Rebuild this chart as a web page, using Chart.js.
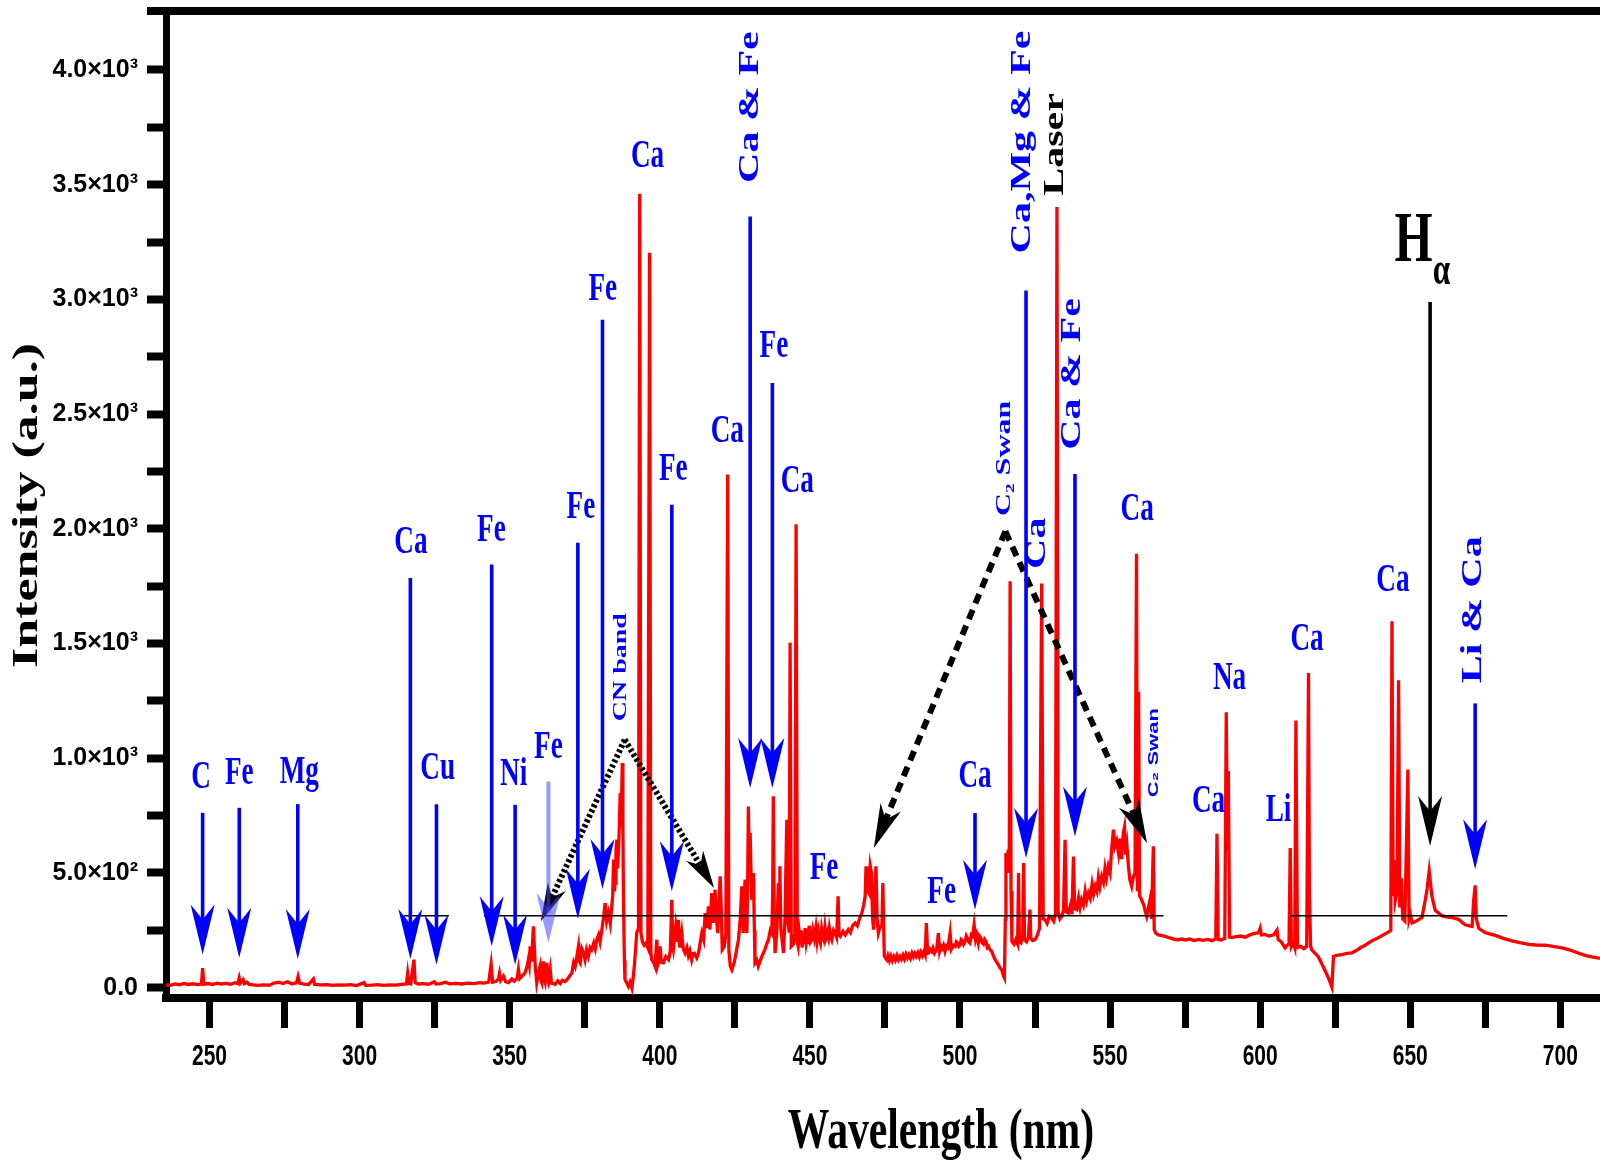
<!DOCTYPE html>
<html>
<head>
<meta charset="utf-8">
<script src="https://cdn.jsdelivr.net/npm/chart.js@4.4.0/dist/chart.umd.min.js"></script>
<style>
html,body{margin:0;padding:0;background:#ffffff;}
#wrap{width:1600px;height:1170px;position:relative;}
</style>
</head>
<body>
<div id="wrap"><canvas id="c" width="1600" height="1170"></canvas></div>
<script>
// ---------------- DATA ----------------
// LIBS emission spectrum: [wavelength (nm), intensity (a.u.)]
const spectrum = [
[235.5,12],[237,10],[238.5,16],[240,12],[241.5,18],[243,14],[244.5,17],[246,13],[247.3,16],[247.7,85],[248.1,15],[249.5,18],[251,14],[252.5,20],[254,16],[255.5,19],[257,15],[258.5,22],[259.5,18],[259.9,42],[260.3,20],[261.2,35],[261.6,18],[262.5,24],[263.2,14],[264.5,12],[266,10],[268,12],[270,11],[271.5,20],[273,24],[274.5,18],[276,26],[277.5,16],[279,22],[279.5,48],[280,20],[281.5,15],[283,14],[284.6,38],[285,14],[287,12],[289,13],[291,10],[293,12],[295,11],[297,13],[299,9],[301.5,22],[302,10],[304,11],[306,13],[308,10],[310,12],[312,11],[314,14],[315.6,16],[316,62],[316.4,18],[317,16],[318.1,122],[318.5,22],[319.5,16],[321,18],[323,15],[324.9,26],[325.4,16],[327,18],[328.5,24],[330,17],[332,19],[334,16],[336,20],[338,18],[340,22],[341.5,20],[343,24],[343.8,102],[344.3,24],
[345.5,28],[346.3,40],[346.6,62],[347,32],[347.9,50],[348.6,26],[349.6,22],[350.7,38],[351.5,28],[352.5,42],[352.9,80],[353.3,40],[354.2,52],[355.1,64],[355.8,95],[356.2,122],[356.5,100],[356.8,180],[357.1,120],[357.4,151],[357.9,267],[358.2,180],[358.5,93],[359,22],[359.5,60],[360.1,93],[360.4,30],[360.7,20],[361.2,115],[361.5,40],[361.8,25],[362.4,108],[362.7,30],[362.9,22],[363.5,78],[363.9,20],[364.5,18],[365.1,14],[366,30],[366.8,18],[367.5,32],[368.5,27],[369.5,42],[370.2,55],[370.7,64],[371.3,110],[371.8,93],[372.4,140],[372.9,180],[373.2,115],[373.5,108],[374,170],[374.6,151],[375.1,122],[375.6,165],[376.2,137],[376.8,175],[377.3,166],[378,195],[378.5,170],[379,209],[379.6,230],[380.1,200],[380.7,253],[381.2,300],[381.8,369],[382.3,290],[382.9,325],[383.5,280],[384,354],[384.3,400],[384.6,558],[384.9,420],[385.1,456],[385.4,600],[385.7,645],[385.9,520],[386.2,587],[386.5,700],[386.8,848],[387.1,703],[387.5,979],[387.7,700],[387.9,383],[388.2,120],[388.4,35],[389,20],[389.5,6],[390.1,25],[390.7,-2],[391.1,40],[391.5,93],[392,180],[392.3,238],[392.9,260],[393.3,3460],[393.7,240],[394.2,200],[394.8,185],[395.4,195],[396,175],[396.6,3203],[397.0,160],[397.3,122],[397.9,110],[398.4,93],[399,209],[399.3,100],[399.7,120],[400.1,180],[400.5,110],[401.2,108],[402,135],[402.9,122],[403.5,160],[404,383],[404.3,180],[404.5,166],[405,230],[405.3,267],[405.8,200],[406.2,296],[406.5,190],[406.7,175],[407.3,238],[407.8,170],[408.4,151],[409,175],[409.5,140],[410,160],[410.6,122],[411,148],[411.5,150],[412.3,130],[412.9,151],[413.5,200],[414,238],[414.6,210],[415.1,325],[415.6,260],[416.2,354],[416.7,253],[417.3,412],[417.8,282],[418.4,427],[418.9,300],[419.3,238],[419.8,400],[420.1,485],[420.5,330],[420.8,166],[421.5,180],[422.0,240],[422.6,2237],[423,160],[423.5,93],[424,78],[424.8,110],[425.6,166],[426.2,209],[426.8,300],[427.3,442],[427.6,300],[427.8,238],[428.1,380],[428.4,471],[428.7,350],[429,238],[429.3,500],[429.5,790],[429.8,560],[430.1,674],[430.4,480],[430.6,383],[430.9,420],[431.2,500],[431.5,250],[431.7,108],[432.3,120],[432.8,93],[433.8,130],[435,166],[435.6,190],[436.2,209],[436.8,250],[437.3,238],[437.6,400],[437.8,834],[438.1,300],[438.4,151],[439,250],[439.5,456],[439.8,350],[440,529],[440.3,260],[440.8,200],[441.2,151],[441.7,300],[442.3,732],[442.6,300],[443.1,240],[443.4,1503],[443.8,180],[444.5,190],[445.0,240],[445.4,2020],[445.8,200],
[446.1,180],[446.5,235],[446.8,200],[447.1,250],[447.4,175],[447.8,230],[448.1,190],[448.4,260],[448.8,195],[449.2,225],[449.5,190],[449.8,270],[450.2,200],[450.6,209],[451,250],[451.5,215],[452,262],[452.4,205],[452.8,245],[453.2,210],[453.5,195],[453.9,255],[454.2,230],[454.6,212],[455,265],[455.4,220],[455.8,240],[456.2,218],[456.5,258],[456.9,225],
[457.3,209],[457.9,250],[458.4,238],[458.9,220],[459.4,398],[459.7,230],[460.1,224],[461,245],[461.8,230],[462.8,253],[463.5,240],[464.2,270],[465.1,282],[465.8,270],[466.5,300],[467.3,325],[467.9,360],[468.4,398],[468.7,529],[469,480],[469.4,420],[469.7,412],[470.1,529],[470.5,500],[470.9,300],[471.2,253],[471.6,400],[472,529],[472.4,300],[472.8,238],[473.4,267],[474,267],[474.3,456],[474.6,250],[474.8,137],
[475.6,122],[476,140],[476.5,118],[477,138],[477.5,118],[478,135],[478.5,120],[479,140],[479.5,122],[480,136],[480.5,124],[481,142],[481.5,125],[482,146],[482.5,130],[483,144],[483.5,128],[484,150],[484.5,134],[485,150],[485.5,137],[486,152],[486.5,134],[487,155],[487.5,140],[488,158],[488.4,144],[488.8,282],[489.2,150],[489.5,151],[490,168],[490.6,158],[491,172],[491.5,150],[492.2,165],[492.8,238],[493.2,160],[493.6,180],[494,170],[494.5,185],[495,158],[495.5,182],[496,175],[496.7,238],[497.1,168],[497.8,185],[498.4,180],[498.8,200],[499.2,195],[499.6,180],[500,185],[500.4,210],[500.8,205],[501.2,190],[501.7,202],[502.1,225],[502.5,215],[502.9,200],[503.3,195],[503.8,230],[504.2,225],[504.7,274],[505.2,210],[505.6,230],[506.1,195],[506.5,225],[507,215],[507.4,195],[507.8,190],[508.2,210],[508.7,200],[509.1,175],[509.5,180],[510,165],[510.5,160],[511.1,140],[511.7,122],[512.3,110],[512.8,100],[513.4,85],[513.9,78],[514.5,50],[514.8,42],[515.1,300],[515.3,587],[515.7,560],[516.1,601],[516.4,500],[516.7,1771],[517.0,420],[517.3,202],[518,190],[518.6,210],[519.2,190],[519.5,500],[519.8,200],[520.3,195],[520.9,230],[521.2,543],[521.5,210],[522.2,200],[522.8,220],[523.3,340],[523.6,215],[524.2,205],[525,209],[525.8,230],[526.5,260],[527.2,1762],[527.7,300],[528.3,296],[529,280],[529.7,310],[530.5,304],[531.2,290],[531.8,320],[532.3,3403],[532.7,330],[533.3,300],[533.9,311],[534.5,340],[535,645],[535.4,330],[536.1,325],[536.8,360],[537.3,320],[537.8,572],[538.2,345],[538.9,340],[539.5,390],[540,350],[540.5,383],[541.1,360],[541.7,420],[542.2,380],[542.8,412],[543.4,390],[544,450],[544.5,410],[545,442],[545.6,420],[546.1,480],[546.6,440],[547.2,485],[547.8,460],[548.3,520],[548.8,480],[549.4,529],[550,500],[550.5,600],[551.1,689],[551.6,616],[552.2,640],[552.8,587],[553.3,650],[553.8,560],[554.4,674],[554.8,700],[555.2,580],[555.6,620],[556.1,529],[556.6,470],[557.2,442],[557.7,480],[558.3,500],[558.8,1891],[559.1,420],[559.5,1290],[559.8,400],[560.5,383],[561.2,360],[561.8,330],[562.2,311],[562.8,350],[563.3,383],[563.8,300],[564.4,616],[564.7,253],[565.2,238],[566,230],[567,228],[568.3,224],[569.5,218],[570.5,215],[571.6,210],[572.7,209],
[573.8,212],[575,208],[576.5,212],[578,205],[579.5,210],[581,206],[582.5,210],[584,205],[585.2,214],[585.6,671],[586,210],[587,208],[588.2,215],[588.7,1200],[589.1,600],[589.4,944],[589.8,220],[590.6,218],[592,222],[593.5,225],[595,220],[596.5,230],[598,236],[599.5,240],[600,259],[600.4,230],[601.5,232],[603,225],[604.5,230],[605.6,251],[606,210],[607,200],[608.3,173],[609,185],[609.6,190],[610,609],[610.4,180],[611,195],[611.5,175],[611.9,1164],[612.4,175],[613.5,180],[614.5,170],[615.5,180],[616.1,1371],[616.4,399],[616.8,180],[617.2,165],[618.3,150],[619.4,134],[620.5,104],[621.7,72],[622.8,40],[623.9,2],[624.4,136],[625.2,140],[626.1,142],[627.5,145],[629,150],[630.6,152],[632,162],[633.5,175],[635,185],[636.5,198],[637.2,204],[639,215],[641,230],[642.8,243],[643.5,250],[643.9,1597],[644.3,400],[644.7,555],[645,380],[645.6,420],[646.1,1340],[646.5,350],[647,477],[647.5,300],[648.2,290],[649.2,951],[649.6,300],[650,321],[650.6,282],[652,290],[653.9,306],[655,383],[655.6,430],[656.3,508],[657.2,399],[658.3,337],[660.6,313],[662.5,308],[664,305],[666.1,298],[667.2,285],[668.3,274],[670,268],[670.6,267],[671.1,376],[671.6,446],[672,300],[672.8,259],[675,240],[678.3,228],[681,215],[683.9,204],[686.5,196],[689.4,189],[692,186],[695,185],[697.5,180],[700.6,173],[703,165],[706.1,150],[708.5,140],[710.6,134],[713.2,128]
];

// thin horizontal reference segments: [start nm, end nm, intensity]
const refSegments = [[314.7, 329.7, 314], [341.4, 567.8, 314], [610.0, 682.3, 314]];

// axis ticks
const xTicks = [250,275,300,325,350,375,400,425,450,475,500,525,550,575,600,625,650,675,700];
const xTickLabels = ['250','','300','','350','','400','','450','','500','','550','','600','','650','','700'];
const yTicks = [0,250,500,750,1000,1250,1500,1750,2000,2250,2500,2750,3000,3250,3500,3750,4000];
const yTickLabels = ['0.0','','5.0×10²','','1.0×10³','','1.5×10³','','2.0×10³','','2.5×10³','','3.0×10³','','3.5×10³','','4.0×10³'];
const xRange = [235.5, 713.2];
const yRange = [-45, 4257];

const xTitle = 'Wavelength (nm)';
const yTitle = 'Intensity (a.u.)';

// identification arrows: [wavelength, top intensity, tip intensity]
const blueArrows = [
  [247.7, 762, 145], [259.9, 784, 130], [279.4, 800, 125], [316.9, 1786, 125],
  [325.6, 800, 100], [344.0, 1845, 181], [351.8, 797, 100], [372.7, 1939, 300],
  [380.9, 2911, 430], [404.0, 2105, 420], [430.1, 3361, 870], [437.5, 2636, 870],
  [505.0, 761, 340], [522.0, 3039, 565], [538.3, 2239, 659], [671.6, 1239, 516]
];
const fadedArrows = [[362.9, 899, 195]];
const blackArrows = [[656.6, 2989, 617]];

// labels: [text, wavelength, intensity]
const elementLabels = [
  ['C',247.2,917],['Fe',259.9,932],['Mg',279.9,939],['Ca',317.1,1941],['Cu',326.0,954],
  ['Fe',343.9,1993],['Ni',351.3,928],['Fe',362.9,1044],['Fe',373.7,2092],['Fe',381.0,3041],
  ['Fe',404.5,2257],['Ca',395.9,3622],['Ca',422.5,2424],['Fe',438.0,2794],['Ca',445.8,2206],
  ['Fe',454.7,517],['Fe',493.9,412],['Ca',505.0,921],['Ca',559.0,2083],['Ca',582.8,811],
  ['Na',589.8,1348],['Li',606.1,772],['Ca',615.6,1519],['Ca',644.2,1776]
];
const verticalLabels = [
  ['Ca & Fe',430.3,3838],['Ca,Mg & Fe',520.8,3686],['Ca & Fe',537.4,2675],
  ['Li & Ca',671.1,1647],['Ca',525.7,1937]
];
const laserLabel = ['Laser',531.8,3675];
const bandLabels = [['CN band',387.0,1397],['C₂ Swan',514.7,2307],['C₂ Swan',564.5,1024]];
const hAlphaLabel = ['H','α',651.1,3250,660.4,3120];

// molecular band bracket arrows: apex and two tips [wavelength, intensity]
const cnBand = [[388.3,1081],[360.4,289],[418.1,434]];
const c2Swan = [[515.1,1989],[471.3,609],[562.3,630]];

// ---------------- RENDER ----------------
const SQ = 0.68; // horizontal squeeze of the reference lettering
const BLUE = '#0000ff';
const SERIF = "'Liberation Serif','Times New Roman',serif";
const SANS = "'Liberation Sans',Arial,sans-serif";

function sqText(ctx, txt, x, y, font, color, rotate, k) {
  ctx.save();
  ctx.translate(x, y);
  ctx.scale(k || SQ, 1);
  if (rotate) ctx.rotate(-Math.PI / 2);
  ctx.font = font;
  ctx.fillStyle = color;
  ctx.textAlign = 'center';
  ctx.textBaseline = 'middle';
  ctx.fillText(txt, 0, 0);
  ctx.restore();
}

// narrow the tick lettering of a scale, as in the reference
function squeezeScaleLabels(s, k) {
  if (s._sqPatched) return;
  const orig = s.drawLabels;
  s.drawLabels = function (area) {
    const ctx = this.ctx, ft = ctx.fillText;
    ctx.fillText = function (t, x, y, mw) {
      this.save(); this.translate(x, y); this.scale(k, 1);
      ft.call(this, t, 0, 0); this.restore();
    };
    try { orig.call(this, area); } finally { ctx.fillText = ft; }
  };
  s._sqPatched = true;
}

function arrowHead(ctx, tx, ty, angle, len, wid, color) {
  ctx.save();
  ctx.translate(tx, ty);
  ctx.rotate(angle);
  ctx.beginPath();
  ctx.moveTo(0, 0);
  ctx.lineTo(-len, -wid / 2);
  ctx.lineTo(-len * 0.7, 0);
  ctx.lineTo(-len, wid / 2);
  ctx.closePath();
  ctx.fillStyle = color;
  ctx.fill();
  ctx.restore();
}

function vArrow(ctx, xs, ys, a, color, lw) {
  const x = xs.getPixelForValue(a[0]);
  const y1 = ys.getPixelForValue(a[1]);
  const y2 = ys.getPixelForValue(a[2]);
  const L = 50, W = 24;
  ctx.save();
  ctx.strokeStyle = color;
  ctx.lineWidth = lw;
  ctx.beginPath();
  ctx.moveTo(x, y1);
  ctx.lineTo(x, y2 - L * 0.6);
  ctx.stroke();
  ctx.restore();
  arrowHead(ctx, x, y2, Math.PI / 2, L, W, color);
}

function bracket(ctx, xs, ys, pts, dash, lw, headLen, headWid) {
  const ax = xs.getPixelForValue(pts[0][0]), ay = ys.getPixelForValue(pts[0][1]);
  for (let i = 1; i < 3; i++) {
    const tx = xs.getPixelForValue(pts[i][0]), ty = ys.getPixelForValue(pts[i][1]);
    const ang = Math.atan2(ty - ay, tx - ax);
    const ex = tx - Math.cos(ang) * headLen * 0.7, ey = ty - Math.sin(ang) * headLen * 0.7;
    ctx.save();
    ctx.setLineDash(dash);
    ctx.strokeStyle = '#000';
    ctx.lineWidth = lw;
    ctx.beginPath();
    ctx.moveTo(ax, ay);
    ctx.lineTo(ex, ey);
    ctx.stroke();
    ctx.restore();
    arrowHead(ctx, tx, ty, ang, headLen, headWid, '#000');
  }
}

const annotate = {
  id: 'annotate',
  afterDatasetsDraw(chart) {
    const ctx = chart.ctx, xs = chart.scales.x, ys = chart.scales.y;
    const X = v => xs.getPixelForValue(v), Y = v => ys.getPixelForValue(v);
    bracket(ctx, xs, ys, cnBand, [3, 2.5], 6, 38, 20);
    bracket(ctx, xs, ys, c2Swan, [10, 7], 6, 44, 22);
    fadedArrows.forEach(a => vArrow(ctx, xs, ys, a, 'rgba(70,70,255,0.55)', 4));
    blueArrows.forEach(a => vArrow(ctx, xs, ys, a, BLUE, 3.6));
    blackArrows.forEach(a => vArrow(ctx, xs, ys, a, '#000', 3.6));
    elementLabels.forEach(l => sqText(ctx, l[0], X(l[1]), Y(l[2]), 'bold 40px ' + SERIF, BLUE, false));
    verticalLabels.forEach(l => sqText(ctx, l[0], X(l[1]), Y(l[2]), 'bold 42px ' + SERIF, BLUE, true));
    sqText(ctx, laserLabel[0], X(laserLabel[1]), Y(laserLabel[2]), 'bold 42px ' + SERIF, '#000', true);
    sqText(ctx, bandLabels[0][0], X(bandLabels[0][1]), Y(bandLabels[0][2]), 'bold 28px ' + SERIF, BLUE, true);
    sqText(ctx, bandLabels[1][0], X(bandLabels[1][1]), Y(bandLabels[1][2]), 'bold 32px ' + SERIF, BLUE, true);
    sqText(ctx, bandLabels[2][0], X(bandLabels[2][1]), Y(bandLabels[2][2]), 'bold 22px ' + SANS, BLUE, true);
    sqText(ctx, hAlphaLabel[0], X(hAlphaLabel[2]), Y(hAlphaLabel[3]), 'bold 72px ' + SERIF, '#000', false);
    sqText(ctx, hAlphaLabel[1], X(hAlphaLabel[4]), Y(hAlphaLabel[5]), 'bold 46px ' + SERIF, '#000', false);
  },
  afterDraw(chart) {
    const ctx = chart.ctx, a = chart.chartArea;
    // top frame line
    ctx.save();
    ctx.fillStyle = '#000';
    ctx.fillRect(a.left - 19, a.top - 4, chart.width - a.left + 19, 8);
    ctx.restore();
    // axis titles
    sqText(ctx, yTitle, 28, (a.top + a.bottom) / 2 + 1, 'bold 52px ' + SERIF, '#000', true, 0.68);
    sqText(ctx, xTitle, 941, 1133, 'bold 57px ' + SERIF, '#000', false, 0.73);
  }
};

const datasets = [{
  label: 'Spectrum',
  data: spectrum.map(p => ({x: p[0], y: p[1]})),
  borderColor: '#ff0000',
  borderWidth: 3.3,
  pointRadius: 0,
  tension: 0,
  order: 2
}];
refSegments.forEach((s, i) => datasets.push({
  label: 'ref' + i,
  data: [{x: s[0], y: s[2]}, {x: s[1], y: s[2]}],
  borderColor: '#000',
  borderWidth: 1.5,
  pointRadius: 0,
  order: 1
}));

new Chart(document.getElementById('c'), {
  type: 'line',
  data: {datasets},
  options: {
    responsive: false,
    animation: false,
    devicePixelRatio: 1,
    layout: {padding: {top: 11, right: 0, bottom: 0, left: 0}},
    plugins: {legend: {display: false}, tooltip: {enabled: false}},
    scales: {
      x: {
        type: 'linear', position: 'bottom', min: xRange[0], max: xRange[1],
        afterBuildTicks: s => { s.ticks = xTicks.map(v => ({value: v})); },
        afterFit: s => { s.height = 172; s.paddingLeft = 0; s.paddingRight = 0; squeezeScaleLabels(s, 0.7); },
        ticks: {
          autoSkip: false, maxRotation: 0, padding: 11, color: '#000',
          font: {family: SANS, size: 30, weight: 'bold'},
          callback: (v) => xTickLabels[xTicks.indexOf(v)] ?? ''
        },
        grid: {drawOnChartArea: false, drawTicks: true, tickLength: 30, tickWidth: 7, tickColor: '#000'},
        border: {display: true, color: '#000', width: 8}
      },
      y: {
        type: 'linear', position: 'left', min: yRange[0], max: yRange[1],
        afterBuildTicks: s => { s.ticks = yTicks.map(v => ({value: v})); },
        afterFit: s => { s.width = 166; s.paddingTop = 0; s.paddingBottom = 0; },
        ticks: {
          autoSkip: false, padding: 9, color: '#000',
          font: {family: SANS, size: 25, weight: 'bold'},
          callback: (v) => yTickLabels[yTicks.indexOf(v)] ?? ''
        },
        grid: {drawOnChartArea: false, drawTicks: true, tickLength: 19, tickWidth: 8, tickColor: '#000'},
        border: {display: true, color: '#000', width: 7}
      }
    }
  },
  plugins: [annotate]
});
</script>
</body>
</html>
